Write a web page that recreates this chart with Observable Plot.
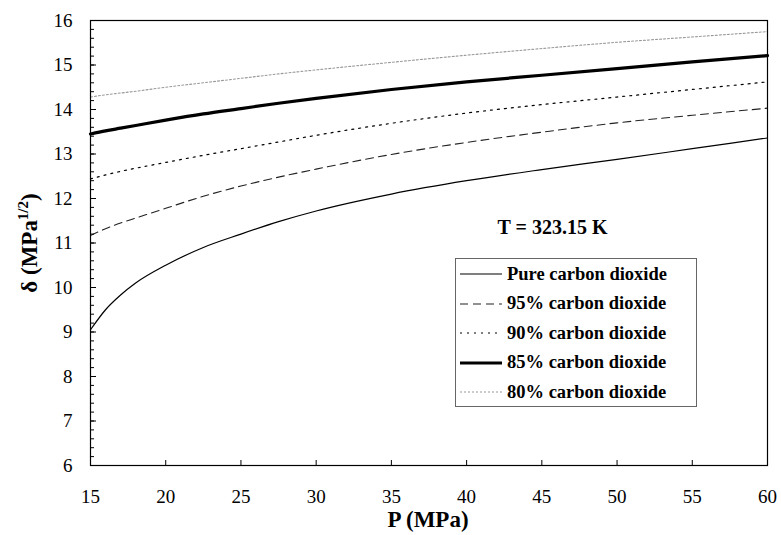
<!DOCTYPE html>
<html>
<head>
<meta charset="utf-8">
<script src="https://cdn.jsdelivr.net/npm/d3@7"></script>
<script src="https://cdn.jsdelivr.net/npm/@observablehq/plot@0.6"></script>
<style>
  html, body { margin: 0; padding: 0; background: #fff; }
  #wrap { position: relative; width: 781px; height: 535px; font-family: 'Liberation Serif', serif; }
  #legend { position: absolute; left: 455px; top: 258px; width: 242px; height: 149px; border: 1px solid #666; box-sizing: border-box; background: #fff; }
  .row { position: absolute; left: 0; height: 28px; display: flex; align-items: center; }
  .row svg { margin-left: 4px; margin-right: 5px; }
  .row span { font-weight: bold; font-size: 18.5px; color: #000; white-space: nowrap; }
</style>
</head>
<body>
<div id="wrap"></div>
<script>
const pressure = [15, 16, 17, 18, 20, 22.5, 25, 27.5, 30, 35, 40, 45, 50, 55, 60];
const pure = [9.05, 9.5, 9.83, 10.1, 10.5, 10.9, 11.2, 11.48, 11.72, 12.1, 12.4, 12.65, 12.88, 13.12, 13.36];
const co2_95 = [11.17, 11.32, 11.45, 11.56, 11.78, 12.05, 12.28, 12.48, 12.66, 12.99, 13.26, 13.49, 13.7, 13.87, 14.03];
const co2_90 = [12.44, 12.53, 12.61, 12.68, 12.81, 12.97, 13.12, 13.27, 13.42, 13.69, 13.92, 14.11, 14.28, 14.45, 14.62];
const co2_85 = [13.45, 13.52, 13.58, 13.64, 13.76, 13.9, 14.02, 14.14, 14.25, 14.45, 14.62, 14.77, 14.92, 15.07, 15.21];
const co2_80 = [14.28, 14.33, 14.37, 14.41, 14.5, 14.6, 14.7, 14.8, 14.89, 15.06, 15.22, 15.37, 15.51, 15.63, 15.75];
const seriesNames = ["Pure carbon dioxide", "95% carbon dioxide", "90% carbon dioxide", "85% carbon dioxide", "80% carbon dioxide"];
const seriesValues = [pure, co2_95, co2_90, co2_85, co2_80];
const xTicks = [15, 20, 25, 30, 35, 40, 45, 50, 55, 60];
const yTicks = [6, 7, 8, 9, 10, 11, 12, 13, 14, 15, 16];
const yMinor = d3.range(6, 16.001, 0.2).map(v => +v.toFixed(1));
const annotation = "T = 323.15 K";
const FONT = "Liberation Serif";

const styles = [
  {stroke: "#000", strokeWidth: 1.2, dash: null},
  {stroke: "#222", strokeWidth: 1.1, dash: "8,5"},
  {stroke: "#000", strokeWidth: 1.2, dash: "2,5"},
  {stroke: "#000", strokeWidth: 3.2, dash: null},
  {stroke: "#999", strokeWidth: 1.1, dash: "2,2"}
];

const data = [];
seriesNames.forEach((name, i) => pressure.forEach((p, j) => data.push({series: name, P: p, d: seriesValues[i][j]})));

const lineMarks = seriesNames.map((name, i) => Plot.line(data.filter(r => r.series === name), {
  x: "P", y: "d", stroke: styles[i].stroke, strokeWidth: styles[i].strokeWidth,
  strokeDasharray: styles[i].dash, curve: "monotone-x"
}));

const chart = Plot.plot({
  width: 781,
  height: 535,
  marginLeft: 90,
  marginRight: 14,
  marginTop: 20,
  marginBottom: 70,
  style: {fontSize: "19px", color: "#000", background: "#fff", fontFamily: FONT},
  x: {domain: [15, 60]},
  y: {domain: [6, 16]},
  marks: [
    ...lineMarks,
    Plot.frame({stroke: "#000", strokeWidth: 1.2}),
    Plot.axisX({ticks: xTicks, tickSize: -5, tickPadding: 29, tickFormat: d => String(d), label: null, fontSize: 19}),
    Plot.axisY({ticks: yMinor, tickSize: -4, text: null, label: null}),
    Plot.axisY({ticks: yTicks, tickSize: -6, tickPadding: 24, tickFormat: d => String(d), label: null, fontSize: 19}),
    Plot.text([annotation], {frameAnchor: "top-left", dx: 462, dy: 199, fontWeight: "bold", fontSize: 20, textAnchor: "middle"})
  ]
});

const wrap = document.getElementById("wrap");
wrap.appendChild(chart);

const svg = d3.select(chart);
svg.append("text")
  .attr("x", 428).attr("y", 527)
  .attr("text-anchor", "middle")
  .attr("font-weight", "bold").attr("font-size", 23)
  .attr("fill", "#000")
  .text("P (MPa)");
const yl = svg.append("text")
  .attr("transform", "translate(37,243) rotate(-90)")
  .attr("text-anchor", "middle")
  .attr("font-weight", "bold").attr("font-size", 23)
  .attr("fill", "#000");
yl.append("tspan").text("δ (MPa");
yl.append("tspan").attr("dy", -9).attr("font-size", 15).text("1/2");
yl.append("tspan").attr("dy", 9).text(")");

const legend = document.createElement("div");
legend.id = "legend";
seriesNames.forEach((name, i) => {
  const row = document.createElement("div");
  row.className = "row";
  row.style.top = (1 + i * 29.5) + "px";
  const s = styles[i];
  row.innerHTML = `<svg width="42" height="10"><line x1="0" x2="42" y1="5" y2="5" stroke="${s.stroke}" stroke-width="${s.strokeWidth}" ${s.dash ? `stroke-dasharray="${s.dash}"` : ""}/></svg><span>${name}</span>`;
  legend.appendChild(row);
});
wrap.appendChild(legend);
</script>
</body>
</html>
